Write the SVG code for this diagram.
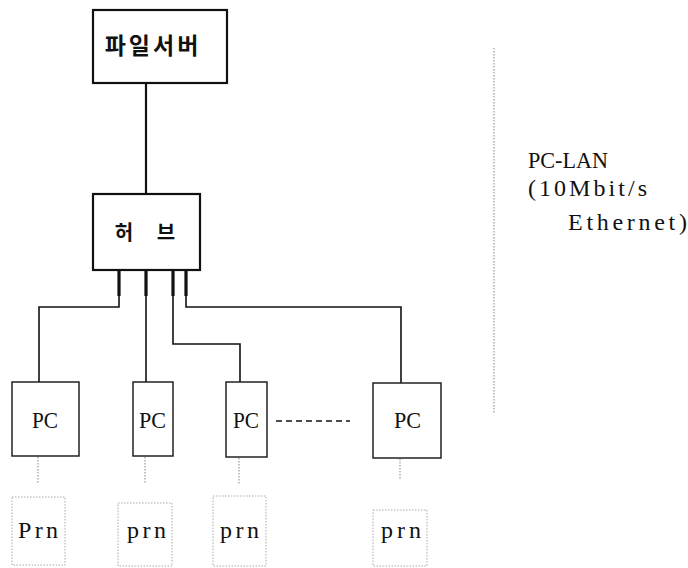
<svg xmlns="http://www.w3.org/2000/svg" width="688" height="568" viewBox="0 0 688 568">
<style>
.box{fill:none;stroke:#111;stroke-width:2.2}
.pc{fill:none;stroke:#222;stroke-width:1.5}
.prn{fill:none;stroke:#aaa;stroke-width:1;stroke-dasharray:1.5 1.5}
.ln{fill:none;stroke:#111;stroke-width:1.6}
.stub{fill:none;stroke:#111;stroke-width:3.2}
.dot{fill:none;stroke:#999;stroke-width:1.2;stroke-dasharray:1.5 1.5}
.ko{font-family:"Noto Sans CJK KR",sans-serif;font-weight:bold;fill:#111}
.sr{font-family:"Liberation Serif",serif;font-size:24px;fill:#111}
</style>
<rect width="688" height="568" fill="#fff"/>
<g id="connectors">
<line class="box" x1="146" y1="83" x2="146" y2="194"/>
<polyline class="ln" points="119,270 119,307 39,307 39,382"/>
<line class="ln" x1="146" y1="270" x2="146" y2="382"/>
<polyline class="ln" points="173,270 173,344 240,344 240,382"/>
<polyline class="ln" points="186,270 186,307 401,307 401,383"/>
<line class="stub" x1="119" y1="270" x2="119" y2="296"/>
<line class="stub" x1="146" y1="270" x2="146" y2="296"/>
<line class="stub" x1="173" y1="270" x2="173" y2="296"/>
<line class="stub" x1="186" y1="270" x2="186" y2="296"/>
<line class="ln" x1="276" y1="421" x2="350" y2="421" stroke-dasharray="6 4"/>
<line class="dot" x1="38" y1="457" x2="38" y2="484"/>
<line class="dot" x1="145" y1="457" x2="145" y2="484"/>
<line class="dot" x1="239" y1="458" x2="239" y2="485"/>
<line class="dot" x1="400" y1="459" x2="400" y2="479"/>
<line class="dot" x1="494" y1="48" x2="494" y2="414"/>
</g>
<g id="fileserver">
<rect class="box" x="93" y="10" width="134" height="73"/>
<text class="ko" x="153" y="54" font-size="23" letter-spacing="3" text-anchor="middle">파일서버</text>
</g>
<g id="hub">
<rect class="box" x="93" y="194" width="107" height="76"/>
<text class="ko" x="124 145 166" y="240" font-size="20" text-anchor="middle">허 브</text>
</g>
<g id="pc1">
<rect class="pc" x="12" y="382" width="67" height="74"/>
<text class="sr" x="32" y="428" textLength="26" lengthAdjust="spacingAndGlyphs">PC</text>
</g>
<g id="pc2">
<rect class="pc" x="133" y="382" width="40" height="74"/>
<text class="sr" x="139" y="428" textLength="27" lengthAdjust="spacingAndGlyphs">PC</text>
</g>
<g id="pc3">
<rect class="pc" x="226" y="382" width="41" height="75"/>
<text class="sr" x="233" y="428" textLength="26" lengthAdjust="spacingAndGlyphs">PC</text>
</g>
<g id="pc4">
<rect class="pc" x="373" y="383" width="68" height="75"/>
<text class="sr" x="394" y="428" textLength="27" lengthAdjust="spacingAndGlyphs">PC</text>
</g>
<g id="prn1">
<rect class="prn" x="12" y="497" width="53" height="68"/>
<text class="sr" x="18" y="538" font-size="25" textLength="40" lengthAdjust="spacing">Prn</text>
</g>
<g id="prn2">
<rect class="prn" x="118" y="503" width="54" height="63"/>
<text class="sr" x="127" y="538" font-size="25" textLength="39" lengthAdjust="spacing">prn</text>
</g>
<g id="prn3">
<rect class="prn" x="213" y="496" width="53" height="70"/>
<text class="sr" x="220" y="538" font-size="25" textLength="39" lengthAdjust="spacing">prn</text>
</g>
<g id="prn4">
<rect class="prn" x="373" y="510" width="54" height="56"/>
<text class="sr" x="381" y="538" font-size="25" textLength="40" lengthAdjust="spacing">prn</text>
</g>
<g id="lan-label">
<text class="sr" x="528" y="168" textLength="80" lengthAdjust="spacingAndGlyphs">PC-LAN</text>
<text class="sr" x="528" y="196" textLength="119" lengthAdjust="spacing">(10Mbit/s</text>
<text class="sr" x="568" y="230" textLength="119" lengthAdjust="spacing">Ethernet)</text>
</g>
</svg>
